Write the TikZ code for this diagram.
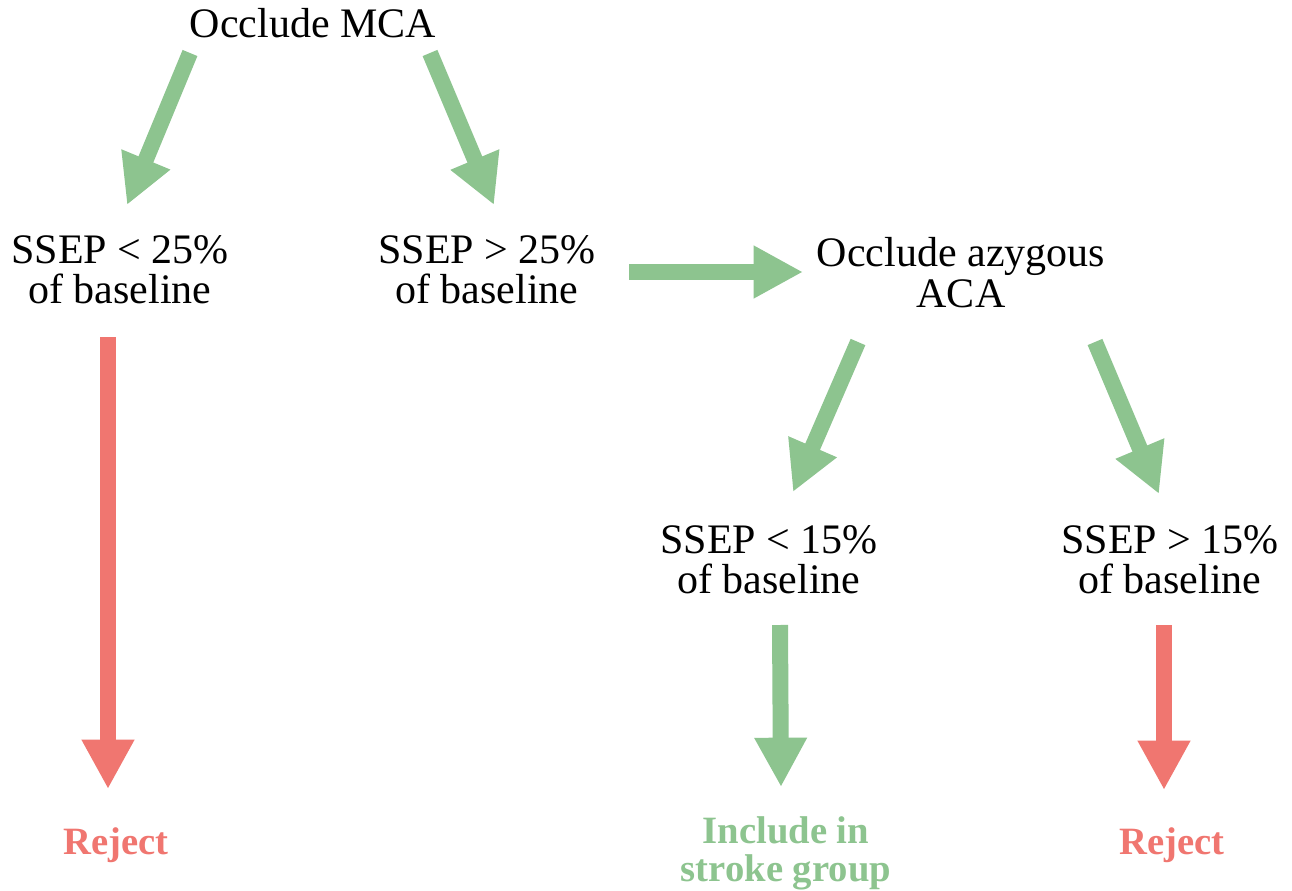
\documentclass[tikz,border=0pt]{standalone}
\usepackage{fontspec}
\setmainfont{Liberation Serif}
\usetikzlibrary{arrows.meta}
\definecolor{arrgreen}{RGB}{141,196,143}
\definecolor{arrred}{RGB}{240,118,112}
\tikzset{
  txt/.style={inner sep=0pt, anchor=north, align=center, text=black,
    font=\fontsize{31.5pt}{30.5pt}\selectfont},
  outcome/.style={inner sep=0pt, anchor=north, align=center,
    font=\fontsize{29pt}{28.5pt}\selectfont\bfseries},
  bigarrow/.style={line width=12pt, -{Triangle[length=37pt,width=37pt]}},
  garrow/.style={bigarrow, draw=arrgreen},
  rarrow/.style={bigarrow, draw=arrred},
}
\begin{document}
\begin{tikzpicture}[x=0.75pt,y=-0.75pt]
\useasboundingbox (0,0) rectangle (1292,891);
\fill[white] (0,0) rectangle (1292,891);
% text nodes
\node[txt] (mca) at (313,8) {Occlude MCA};
\node[txt] (s25l) at (120,235) {SSEP < 25\%\\of baseline};
\node[txt] (s25g) at (487,235) {SSEP > 25\%\\of baseline};
\node[txt] (aca) at (961,237) {Occlude azygous\\ACA};
\node[txt] (s15l) at (769,525) {SSEP < 15\%\\of baseline};
\node[txt] (s15g) at (1170,525) {SSEP > 15\%\\of baseline};
\node[outcome, text=arrred] (rej1) at (116,827) {Reject};
\node[outcome, text=arrgreen] (incl) at (786,816) {Include in\\stroke group};
\node[outcome, text=arrred] (rej2) at (1172,827) {Reject};
% connectors
\draw[garrow] ([shift={(-123,45)}]mca.north) -- ([shift={(7,-30)}]s25l.north);
\draw[garrow] ([shift={(117,45)}]mca.north) -- ([shift={(7,-30)}]s25g.north);
\draw[garrow] ([shift={(142,37)}]s25g.north) -- ([shift={(-158,35)}]aca.north);
\draw[garrow] ([shift={(-103,105)}]aca.north) -- ([shift={(24,-33)}]s15l.north);
\draw[garrow] ([shift={(134,105)}]aca.north) -- ([shift={(-11,-31)}]s15g.north);
\draw[rarrow] ([shift={(-12,102)}]s25l.north) -- ([shift={(-8,-38)}]rej1.north);
\draw[garrow] ([shift={(11,100)}]s15l.north) -- ([shift={(-5,-29)}]incl.north);
\draw[rarrow] ([shift={(-6,100)}]s15g.north) -- ([shift={(-8,-37)}]rej2.north);
\end{tikzpicture}
\end{document}
